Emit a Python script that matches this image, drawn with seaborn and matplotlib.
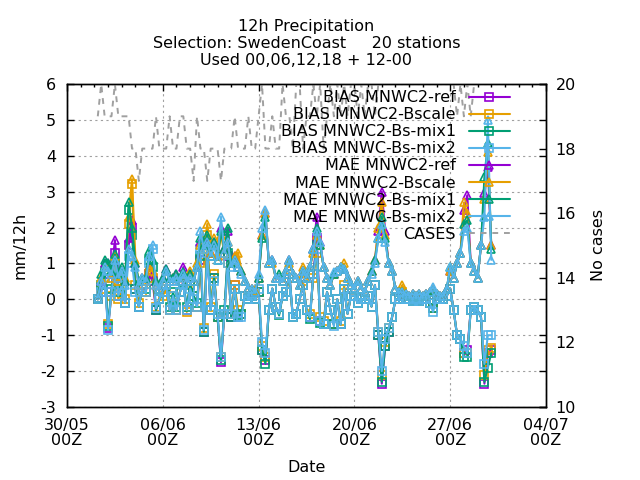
"""
12h precipitation verification - BIAS / MAE per model + number of cases
"""
import numpy as np
import pandas as pd
import matplotlib
matplotlib.use('Agg')
import matplotlib.pyplot as plt
import matplotlib.dates as mdates
import seaborn as sns

FS = 11.5

# 6-hourly verification times
times = pd.date_range('2024-06-01 06:00', periods=116, freq='6h')

cases = [19, 20, 19, 19, 19, 20, 19, 19, 19, 19,
         18, 18, 17, 18, 18, 18, 18, 19, 18, 18,
         18, 19, 18, 18, 19, 19, 18, 18, 17, 19,
         18, 18, 17, 18, 18, 18, 17, 18, 18, 18,
         19, 18, 18, 18, 19, 18, 18, 19, 20, 18,
         18, 19, 18, 18, 20, 19, 19, 18, 20, 20,
         18, 19, 19, 20, 19, 20, 18, 19, 20, 19,
         20, 19, 20, 19, 20, 20, 19, 20, 19, 20,
         20, 19, 20, 20, 20, 20, 20, 20, 20, 20,
         20, 20, 20, 20, 20, 20, 20, 20, 20, 20,
         20, 20, 20, 20, 20, 19, 20, 19, 20, 19,
         20, 20, 20, 20, 20, 20]

bias_ref = [0.0, 0.2, 0.7, -0.8, 0.2, 1.3, 0.1, 0.4, -0.1, 1.5,
            2.0, 0.3, -0.2, 0.3, 0.2, 0.7, 0.5, -0.3, 0.0, 0.2,
            0.4, -0.3, 0.1, -0.3, 0.2, 0.5, -0.3, 0.4, 0.1, -0.2,
            1.1, -0.9, 1.4, -0.3, 0.6, -0.5, -1.75, -0.4, 1.2, -0.5,
            0.4, -0.5, -0.4, 0.1, 0.0, 0.1, 0.0, 0.2, -1.4, -1.7,
            -0.3, 0.3, -0.2, -0.4, 0.1, 0.2, 0.7, -0.5, -0.4, 0.0,
            0.4, -0.3, -0.5, 0.7, 1.7, -0.6, -0.7, 0.2, -0.3, -0.7,
            0.0, -0.7, 0.3, -0.4, 0.1, 0.1, -0.1, 0.0, 0.0, 0.1,
            -0.2, 0.4, -1.0, -2.35, -1.3, -0.9, -0.5, 0.0, 0.0, 0.1,
            0.0, 0.0, -0.05, 0.0, -0.05, 0.0, 0.0, -0.1, -0.25, 0.0,
            0.0, 0.0, 0.1, 0.3, -0.3, -1.0, -1.1, -1.5, -1.4, -0.3,
            -0.2, -0.3, -0.5, -2.35, -1.5, -1.4]

bias_bscale = [0.0, 0.3, 0.6, -0.7, 0.1, 0.9, 0.0, 0.3, 0.0, 2.1,
               3.2, 0.4, -0.1, 0.2, 0.2, 0.7, 0.6, -0.2, 0.0, 0.1,
               0.3, -0.3, 0.1, -0.3, 0.2, 0.4, -0.35, 0.5, 0.1, -0.2,
               1.0, -0.8, 1.8, -0.2, 0.7, -0.5, -1.6, -0.4, 1.0, -0.4,
               0.4, -0.3, -0.4, 0.1, 0.0, 0.1, 0.0, 0.2, -1.3, -1.6,
               -0.3, 0.3, -0.2, -0.4, 0.1, 0.2, 0.6, -0.5, -0.4, 0.0,
               0.5, -0.3, -0.4, 0.6, 1.3, -0.5, -0.6, 0.2, -0.3, -0.7,
               0.0, -0.6, 0.4, -0.4, 0.1, 0.1, -0.1, 0.0, 0.0, 0.1,
               -0.2, 0.4, -0.9, -2.1, -1.2, -0.8, -0.5, 0.0, 0.0, 0.2,
               0.0, 0.0, -0.05, 0.0, -0.05, 0.0, 0.0, -0.1, -0.25, 0.0,
               0.0, 0.0, 0.1, 0.3, -0.3, -1.0, -1.1, -1.5, -1.5, -0.3,
               -0.2, -0.3, -0.5, -2.1, -1.4, -1.35]

bias_mix1 = [0.0, 0.4, 0.8, -0.75, 0.3, 1.0, 0.2, 0.5, -0.1, 2.5,
             1.8, 0.3, -0.2, 0.3, 0.3, 1.1, 0.9, -0.3, 0.0, 0.2,
             0.4, -0.2, 0.2, -0.2, 0.2, 0.45, -0.2, 0.4, 0.1, -0.1,
             1.2, -0.9, 1.5, -0.3, 0.6, -0.5, -1.7, -0.3, 1.3, -0.5,
             0.3, -0.45, -0.4, 0.1, 0.0, 0.1, 0.0, 0.2, -1.4, -1.8,
             -0.3, 0.3, -0.2, -0.45, 0.1, 0.2, 0.7, -0.5, -0.4, 0.0,
             0.4, -0.3, -0.55, 0.7, 1.5, -0.65, -0.7, 0.2, -0.3, -0.7,
             0.0, -0.7, 0.3, -0.4, 0.1, 0.1, -0.1, 0.0, 0.0, 0.1,
             -0.2, 0.4, -1.0, -2.3, -1.3, -0.9, -0.5, 0.0, 0.0, 0.1,
             0.0, 0.0, -0.05, 0.0, -0.05, 0.0, 0.0, -0.1, -0.25, 0.0,
             0.0, 0.0, 0.1, 0.3, -0.3, -1.0, -1.1, -1.6, -1.6, -0.3,
             -0.2, -0.3, -0.5, -2.3, -1.9, -1.5]

bias_mix2 = [0.0, 0.2, 0.6, -0.85, 0.2, 0.9, 0.1, 0.4, -0.1, 1.2,
             1.0, 0.2, -0.2, 0.3, 0.2, 1.0, 1.4, -0.25, 0.0, 0.2,
             0.4, -0.3, 0.1, -0.3, 0.2, 0.4, -0.3, 0.3, 0.0, -0.2,
             1.4, -0.85, 1.3, -0.3, 0.5, -0.4, -1.6, -0.4, 1.0, -0.4,
             0.3, -0.5, -0.5, 0.1, 0.0, 0.1, 0.0, 0.3, -1.2, -1.5,
             -0.3, 0.3, -0.2, -0.4, 0.1, 0.2, 0.7, -0.5, -0.4, 0.0,
             0.4, -0.3, -0.5, 0.7, 1.4, -0.6, -0.7, 0.2, -0.3, -0.75,
             0.0, -0.7, 0.3, -0.4, 0.1, 0.1, -0.1, 0.0, 0.0, 0.1,
             -0.2, 0.4, -0.9, -2.0, -1.1, -0.8, -0.5, 0.0, 0.0, 0.1,
             0.0, 0.0, -0.05, 0.0, -0.05, 0.0, 0.0, -0.1, -0.35, 0.0,
             0.0, 0.0, 0.1, 0.3, -0.3, -1.0, -1.1, -1.3, -1.5, -0.3,
             -0.2, -0.3, -0.5, -1.8, -1.0, -1.0]

mae_ref = [0.05, 0.5, 1.0, 1.0, 0.7, 1.65, 0.6, 0.8, 0.5, 1.7,
           2.2, 1.0, 0.4, 0.6, 0.5, 0.9, 0.7, 0.4, 0.3, 0.6,
           0.85, 0.5, 0.6, 0.7, 0.5, 0.9, 0.5, 0.7, 0.5, 0.9,
           1.6, 1.5, 1.7, 1.3, 1.6, 1.2, 2.0, 1.4, 1.9, 1.0,
           1.2, 0.9, 0.8, 0.5, 0.3, 0.3, 0.2, 0.6, 1.8, 2.4,
           1.0, 1.1, 0.6, 0.6, 0.5, 0.8, 1.1, 0.7, 0.6, 0.4,
           0.8, 0.6, 0.9, 1.4, 2.3, 1.6, 0.9, 0.6, 0.4, 0.7,
           0.8, 0.9, 0.85, 0.6, 0.4, 0.3, 0.5, 0.3, 0.2, 0.5,
           0.8, 1.1, 1.9, 3.0, 1.9, 1.0, 0.8, 0.3, 0.2, 0.2,
           0.15, 0.1, 0.15, 0.1, 0.15, 0.1, 0.15, 0.2, 0.25, 0.15,
           0.1, 0.1, 0.3, 0.8, 0.6, 1.0, 1.3, 2.5, 2.9, 1.0,
           0.8, 0.6, 1.5, 2.95, 3.7, 1.5]

mae_bscale = [0.05, 0.6, 0.9, 0.9, 0.6, 1.2, 0.5, 0.7, 0.6, 2.3,
              3.35, 1.1, 0.4, 0.5, 0.5, 0.9, 0.8, 0.4, 0.3, 0.5,
              0.8, 0.5, 0.6, 0.6, 0.5, 0.7, 0.5, 0.8, 0.5, 1.0,
              1.5, 1.4, 2.1, 1.3, 1.7, 1.2, 1.8, 1.3, 1.6, 1.0,
              1.2, 1.3, 0.8, 0.5, 0.3, 0.3, 0.25, 0.6, 1.8, 2.4,
              1.0, 1.0, 0.6, 0.6, 0.5, 0.8, 1.0, 0.7, 0.6, 0.4,
              0.9, 0.6, 0.9, 1.3, 1.8, 1.5, 0.9, 0.6, 0.4, 0.7,
              0.8, 0.9, 1.0, 0.6, 0.4, 0.3, 0.5, 0.3, 0.2, 0.5,
              0.8, 1.1, 2.0, 2.7, 1.8, 1.0, 0.8, 0.3, 0.2, 0.4,
              0.15, 0.1, 0.15, 0.1, 0.15, 0.1, 0.15, 0.2, 0.25, 0.15,
              0.1, 0.1, 0.3, 0.8, 0.6, 1.0, 1.3, 2.7, 2.4, 1.0,
              0.8, 0.6, 1.5, 2.8, 4.1, 1.5]

mae_mix1 = [0.05, 0.7, 1.1, 1.0, 0.8, 1.25, 0.7, 0.9, 0.5, 2.7,
            2.0, 1.0, 0.5, 0.6, 0.6, 1.35, 1.1, 0.5, 0.3, 0.6,
            0.85, 0.6, 0.6, 0.7, 0.5, 0.75, 0.5, 0.7, 0.5, 0.9,
            1.7, 1.5, 1.8, 1.2, 1.6, 1.1, 1.9, 1.4, 2.0, 1.0,
            1.1, 0.9, 0.8, 0.5, 0.3, 0.3, 0.2, 0.6, 1.7, 2.3,
            1.0, 1.1, 0.6, 0.7, 0.5, 0.8, 1.1, 0.7, 0.6, 0.4,
            0.8, 0.6, 0.9, 1.4, 2.0, 1.5, 0.9, 0.6, 0.4, 0.7,
            0.8, 0.9, 0.85, 0.6, 0.4, 0.3, 0.5, 0.3, 0.2, 0.5,
            0.8, 1.1, 1.7, 2.3, 1.7, 1.0, 0.8, 0.3, 0.2, 0.2,
            0.15, 0.1, 0.15, 0.1, 0.15, 0.1, 0.15, 0.2, 0.25, 0.15,
            0.1, 0.1, 0.3, 0.9, 0.6, 1.0, 1.3, 2.1, 2.2, 1.0,
            0.8, 0.6, 1.5, 3.4, 4.35, 1.4]

mae_mix2 = [0.05, 0.5, 0.9, 0.8, 0.7, 1.1, 0.6, 0.8, 0.4, 1.4,
            1.2, 0.9, 0.4, 0.6, 0.5, 1.2, 1.5, 0.4, 0.3, 0.5,
            0.8, 0.5, 0.5, 0.6, 0.5, 0.7, 0.5, 0.6, 0.5, 0.9,
            1.9, 1.4, 1.6, 1.2, 1.5, 1.1, 2.3, 1.3, 1.6, 0.9,
            1.1, 0.9, 0.7, 0.5, 0.3, 0.3, 0.2, 0.7, 2.0, 2.5,
            1.0, 1.1, 0.6, 0.6, 0.5, 0.8, 1.1, 0.7, 0.6, 0.4,
            0.8, 0.6, 0.9, 1.4, 1.9, 1.6, 0.9, 0.6, 0.4, 0.75,
            0.8, 0.9, 0.85, 0.6, 0.4, 0.3, 0.5, 0.3, 0.2, 0.5,
            0.7, 1.0, 1.7, 2.1, 1.6, 1.0, 0.8, 0.3, 0.2, 0.2,
            0.15, 0.1, 0.15, 0.1, 0.15, 0.1, 0.15, 0.2, 0.35, 0.15,
            0.1, 0.1, 0.3, 0.9, 0.6, 1.0, 1.3, 1.9, 2.0, 1.0,
            0.8, 0.6, 1.5, 2.3, 5.0, 1.1]

labels = ['BIAS MNWC2-ref', 'BIAS MNWC2-Bscale', 'BIAS MNWC2-Bs-mix1', 'BIAS MNWC-Bs-mix2',
          'MAE MNWC2-ref', 'MAE MNWC2-Bscale', 'MAE MNWC2-Bs-mix1', 'MAE MNWC-Bs-mix2']
colors = ['#9400d3', '#e69f00', '#009e73', '#56b4e9']

sns.set_theme(style='white')
plt.rcParams['font.family'] = ['DejaVu Sans']
plt.rcParams['axes.unicode_minus'] = False
plt.rcParams['axes.edgecolor'] = 'black'
plt.rcParams['axes.linewidth'] = 1.0
plt.rcParams['text.color'] = 'black'
plt.rcParams['axes.labelcolor'] = 'black'

fig = plt.figure(figsize=(6.4, 4.8), dpi=100)
ax = fig.add_axes([67 / 640, 1 - 407 / 480, 479 / 640, 323 / 480])
ax2 = ax.twinx()

series = [bias_ref, bias_bscale, bias_mix1, bias_mix2,
          mae_ref, mae_bscale, mae_mix1, mae_mix2]
for k, vals in enumerate(series):
    col = colors[k % 4]
    mk = 's' if k < 4 else '^'
    sns.lineplot(x=times, y=vals, ax=ax, color=col, marker=mk, markersize=5.5,
                 markerfacecolor='none', markeredgecolor=col, markeredgewidth=1.2,
                 linewidth=1.5, legend=False)

sns.lineplot(x=times, y=cases, ax=ax2, color='#a0a0a0', linestyle=(0, (3, 3)),
             linewidth=1.4, legend=False)

# axes ranges / ticks
ax.set_xlim(mdates.date2num(pd.Timestamp('2024-05-30')), mdates.date2num(pd.Timestamp('2024-07-04')))
ax.set_ylim(-3, 6)
ax2.set_ylim(10, 20)
major = pd.date_range('2024-05-30', '2024-07-04', freq='7D')
minor = pd.date_range('2024-05-30', '2024-07-04', freq='D')
ax.set_xticks(mdates.date2num(major))
ax.set_xticks(mdates.date2num(minor), minor=True)
ax.xaxis.set_major_formatter(mdates.DateFormatter('%d/%m\n%HZ'))
ax.set_yticks(range(-3, 7))
ax2.set_yticks(range(10, 21, 2))

ax.tick_params(which='both', direction='in', top=True, right=True, colors='black', labelsize=FS)
ax.tick_params(which='major', length=5, width=1)
ax.tick_params(which='minor', length=2.5, width=1)
ax.tick_params(axis='y', pad=8)
ax.tick_params(axis='x', pad=8)
ax2.tick_params(direction='in', length=5, width=1, labelsize=FS, colors='black', pad=7)
for t in ax.get_xticklabels():
    t.set_linespacing(1.0)

ax.grid(True, which='major', color='#a0a0a0', linestyle=(0, (2, 3)), linewidth=0.8)
ax2.grid(False)
for sp in ax2.spines.values():
    sp.set_color('black')

ax.set_xlabel('Date', fontsize=FS, color='black')
ax.set_ylabel('mm/12h', fontsize=FS, color='black')
ax2.set_ylabel('No cases', fontsize=FS, color='black')
ax.xaxis.set_label_coords(0.5, -0.165)
ax.yaxis.set_label_coords(-0.083, 0.5)
ax2.yaxis.set_label_coords(1.093, 0.5)

fig.text(306.5 / 640, 1 - 18.5 / 480,
         '12h Precipitation\nSelection: SwedenCoast     20 stations\nUsed 00,06,12,18 + 12-00',
         ha='center', va='top', fontsize=FS, linespacing=1.17, color='black')

handles = ax.get_lines()[:8] + ax2.get_lines()[:1]
leg = ax2.legend(handles, labels + ['CASES'], loc='upper right', bbox_to_anchor=(0.925, 0.981),
                 frameon=False, markerfirst=False, handlelength=2.6, handletextpad=0.8,
                 labelspacing=0.13, borderaxespad=0, borderpad=0, fontsize=FS, numpoints=1)
for t in leg.get_texts():
    t.set_color('black')

fig.savefig('out.png', dpi=100)
